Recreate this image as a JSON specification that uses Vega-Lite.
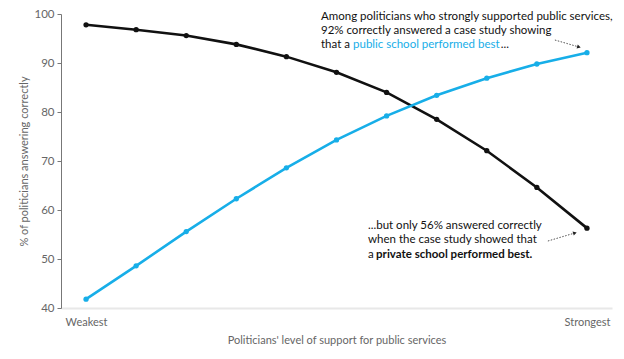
{
  "$schema": "https://vega.github.io/schema/vega-lite/v6.json",
  "width": 551,
  "height": 294,
  "autosize": {"type": "none"},
  "padding": {"left": 61, "top": 14, "right": 12, "bottom": 51},
  "background": "white",
  "config": {"view": {"stroke": null}, "font": "Lato"},
  "datasets": {
    "series": [
      {"level": 1, "pct": 97.8, "series": "private"},
      {"level": 2, "pct": 96.8, "series": "private"},
      {"level": 3, "pct": 95.6, "series": "private"},
      {"level": 4, "pct": 93.8, "series": "private"},
      {"level": 5, "pct": 91.3, "series": "private"},
      {"level": 6, "pct": 88.1, "series": "private"},
      {"level": 7, "pct": 84.0, "series": "private"},
      {"level": 8, "pct": 78.5, "series": "private"},
      {"level": 9, "pct": 72.1, "series": "private"},
      {"level": 10, "pct": 64.6, "series": "private"},
      {"level": 11, "pct": 56.3, "series": "private"},
      {"level": 1, "pct": 41.8, "series": "public"},
      {"level": 2, "pct": 48.6, "series": "public"},
      {"level": 3, "pct": 55.6, "series": "public"},
      {"level": 4, "pct": 62.3, "series": "public"},
      {"level": 5, "pct": 68.6, "series": "public"},
      {"level": 6, "pct": 74.3, "series": "public"},
      {"level": 7, "pct": 79.2, "series": "public"},
      {"level": 8, "pct": 83.4, "series": "public"},
      {"level": 9, "pct": 86.9, "series": "public"},
      {"level": 10, "pct": 89.8, "series": "public"},
      {"level": 11, "pct": 92.1, "series": "public"}
    ],
    "notes": [
      {"x": 5.69, "y": 99.39, "text": "Among politicians who strongly supported public services,", "kind": "plain"},
      {"x": 5.69, "y": 96.43, "text": "92% correctly answered a case study showing", "kind": "plain"},
      {"x": 5.69, "y": 93.67, "text": "that a", "kind": "plain"},
      {"x": 6.33, "y": 93.67, "text": "public school performed best", "kind": "blue"},
      {"x": 9.28, "y": 93.67, "text": "...", "kind": "plain"},
      {"x": 6.63, "y": 56.7, "text": "...but only 56% answered correctly", "kind": "plain"},
      {"x": 6.63, "y": 53.88, "text": "when the case study showed that", "kind": "plain"},
      {"x": 6.63, "y": 50.9, "text": "a", "kind": "plain"},
      {"x": 6.79, "y": 50.9, "text": "private school performed best.", "kind": "bold"}
    ],
    "arrows": [
      {"x": 10.36, "y": 94.69, "x2": 10.84, "y2": 93.27, "angle": 16},
      {"x": 10.22, "y": 53.67, "x2": 10.76, "y2": 55.31, "angle": -17}
    ]
  },
  "layer": [
    {
      "data": {"name": "series"},
      "mark": {"type": "line", "strokeWidth": 2.6},
      "encoding": {
        "x": {
          "field": "level", "type": "quantitative",
          "scale": {"domain": [0.5, 11.5], "nice": false, "zero": false},
          "axis": {
            "values": [1, 11],
            "labelExpr": "datum.value == 1 ? 'Weakest' : 'Strongest'",
            "title": "Politicians' level of support for public services",
            "grid": false, "ticks": false,
            "domainColor": "#e8e8e8", "domainWidth": 2,
            "labelColor": "#666", "labelFontSize": 11, "labelPadding": 8,
            "titleColor": "#666", "titleFontSize": 11, "titleFontWeight": "normal", "titlePadding": 7
          }
        },
        "y": {
          "field": "pct", "type": "quantitative",
          "scale": {"domain": [40, 100], "nice": false, "zero": false},
          "axis": {
            "values": [40, 50, 60, 70, 80, 90, 100],
            "title": "% of politicians answering correctly",
            "grid": false, "tickSize": 4, "tickColor": "#777", "domainColor": "#777",
            "labelColor": "#666", "labelFontSize": 11.5, "labelPadding": 3,
            "titleColor": "#666", "titleFontSize": 11, "titleFontWeight": "normal", "titlePadding": 4
          }
        },
        "color": {
          "field": "series", "type": "nominal",
          "scale": {"domain": ["private", "public"], "range": ["#111111", "#17aee8"]},
          "legend": null
        }
      }
    },
    {
      "data": {"name": "series"},
      "mark": {"type": "point", "filled": true, "size": 28, "opacity": 1, "strokeWidth": 1},
      "encoding": {
        "x": {"field": "level", "type": "quantitative"},
        "y": {"field": "pct", "type": "quantitative"},
        "color": {"field": "series", "type": "nominal", "legend": null}
      }
    },
    {
      "data": {"name": "notes"},
      "transform": [{"filter": "datum.kind != 'bold'"}],
      "mark": {"type": "text", "align": "left", "baseline": "middle", "fontSize": 11.5},
      "encoding": {
        "x": {"field": "x", "type": "quantitative"},
        "y": {"field": "y", "type": "quantitative"},
        "text": {"field": "text"},
        "color": {
          "field": "kind", "type": "nominal",
          "scale": {"domain": ["plain", "blue"], "range": ["#222222", "#17aee8"]},
          "legend": null
        }
      }
    },
    {
      "data": {"name": "notes"},
      "transform": [{"filter": "datum.kind == 'bold'"}],
      "mark": {"type": "text", "align": "left", "baseline": "middle", "fontSize": 11.5, "fontWeight": "bold", "color": "#111111"},
      "encoding": {
        "x": {"field": "x", "type": "quantitative"},
        "y": {"field": "y", "type": "quantitative"},
        "text": {"field": "text"}
      }
    },
    {
      "data": {"name": "arrows"},
      "mark": {"type": "rule", "strokeDash": [1.5, 1.5], "strokeWidth": 1, "color": "#555"},
      "encoding": {
        "x": {"field": "x", "type": "quantitative"},
        "y": {"field": "y", "type": "quantitative"},
        "x2": {"field": "x2"},
        "y2": {"field": "y2"}
      }
    },
    {
      "data": {"name": "arrows"},
      "mark": {"type": "point", "shape": "triangle-right", "filled": true, "size": 18, "color": "#222", "opacity": 1},
      "encoding": {
        "x": {"field": "x2", "type": "quantitative"},
        "y": {"field": "y2", "type": "quantitative"},
        "angle": {"field": "angle", "type": "quantitative", "scale": null}
      }
    }
  ]
}
